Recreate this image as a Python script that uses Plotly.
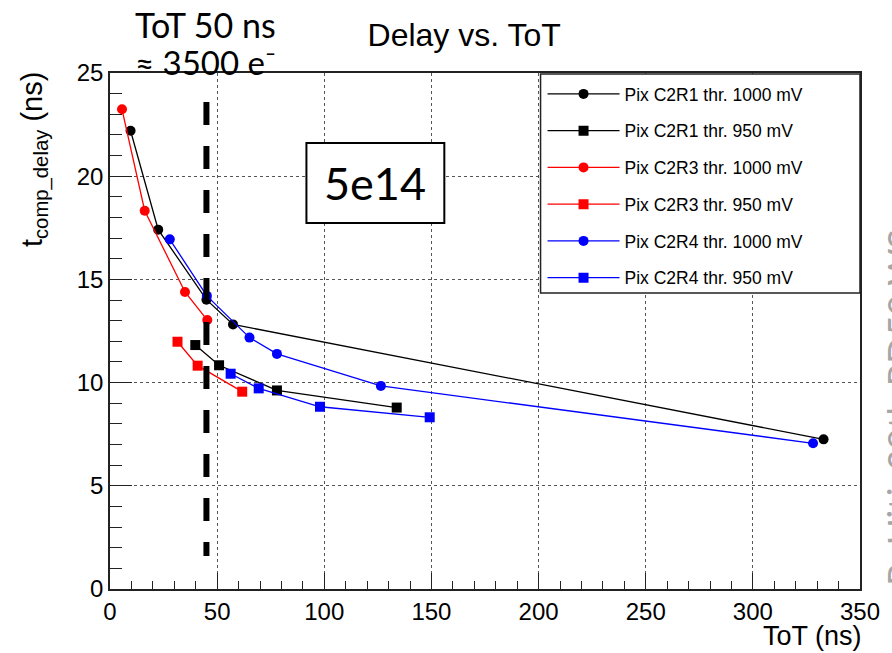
import plotly.graph_objects as go

# Compensation delay vs. ToT for three pixels at two thresholds
c2r1_1000_tot = [9.6, 22.5, 45.0, 57.4, 333.0]
c2r1_1000_delay = [22.2, 17.41, 14.02, 12.82, 7.25]

c2r1_950_tot = [39.8, 50.9, 77.9, 133.8]
c2r1_950_delay = [11.82, 10.84, 9.62, 8.79]

c2r3_1000_tot = [5.6, 16.2, 35.0, 45.4]
c2r3_1000_delay = [23.24, 18.33, 14.39, 13.03]

c2r3_950_tot = [31.5, 40.9, 61.7]
c2r3_950_delay = [11.98, 10.82, 9.56]

c2r4_1000_tot = [27.9, 45.2, 65.1, 77.9, 126.4, 328.1]
c2r4_1000_delay = [16.94, 14.2, 12.18, 11.39, 9.84, 7.06]

c2r4_950_tot = [56.3, 69.4, 98.0, 149.2]
c2r4_950_delay = [10.43, 9.72, 8.83, 8.32]

series_names = [
    "Pix C2R1 thr. 1000 mV",
    "Pix C2R1 thr. 950 mV",
    "Pix C2R3 thr. 1000 mV",
    "Pix C2R3 thr. 950 mV",
    "Pix C2R4 thr. 1000 mV",
    "Pix C2R4 thr. 950 mV",
]
series_x = [c2r1_1000_tot, c2r1_950_tot, c2r3_1000_tot, c2r3_950_tot, c2r4_1000_tot, c2r4_950_tot]
series_y = [c2r1_1000_delay, c2r1_950_delay, c2r3_1000_delay, c2r3_950_delay, c2r4_1000_delay, c2r4_950_delay]
series_colors = ["#000000", "#000000", "#ff0000", "#ff0000", "#0000ff", "#0000ff"]
series_symbols = ["circle", "square", "circle", "square", "circle", "square"]

x_ticks = [0, 50, 100, 150, 200, 250, 300, 350]
y_ticks = [0, 5, 10, 15, 20, 25]
tot_cut = 45.0  # ToT 50 ns marker line

W, H = 892, 653
L, R, T, B = 110, 866, 73, 589


def px_x(p):
    return (p - L) / (R - L)


def px_y(p):
    return (B - p) / (B - T)


AX_FONT = "Liberation Sans, Arial, Helvetica, sans-serif"
SLIDE_FONT = "Lato, Open Sans, sans-serif"

fig = go.Figure()
for i, (name, xs, ys, col, sym) in enumerate(
    zip(series_names, series_x, series_y, series_colors, series_symbols)
):
    fig.add_trace(
        go.Scatter(
            x=xs,
            y=ys,
            name=name,
            mode="lines+markers",
            legendgroup=f"g{i}",
            line=dict(color=col, width=1.3),
            marker=dict(symbol=sym, size=10, color=col),
            cliponaxis=False,
        )
    )

axis_common = dict(
    showline=True,
    linecolor="#222222",
    linewidth=1.5,
    mirror=True,
    ticks="inside",
    tickcolor="#222222",
    tickwidth=1.2,
    showgrid=True,
    gridcolor="#555555",
    gridwidth=1,
    griddash="dot",
    zeroline=False,
    tickfont=dict(family=AX_FONT, size=24, color="#000000"),
)

fig.update_xaxes(
    range=[0, 350],
    tickvals=x_ticks,
    ticktext=[str(v) for v in x_ticks],
    ticklen=16,
    minor=dict(dtick=10, ticklen=8, ticks="inside", tickcolor="#222222", showgrid=False),
    **axis_common,
)
fig.update_yaxes(
    range=[0, 25],
    tickvals=y_ticks,
    ticktext=[str(v) for v in y_ticks],
    ticklen=22,
    minor=dict(dtick=1, ticklen=12, ticks="inside", tickcolor="#222222", showgrid=False),
    **axis_common,
)

shapes = [
    # vertical ToT cut
    dict(
        type="line", xref="x", yref="y",
        x0=tot_cut, x1=tot_cut, y0=23.6, y1=1.6,
        line=dict(color="#000000", width=6, dash="23px,21px"),
        layer="above",
    ),
    # fluence label box
    dict(
        type="rect", xref="paper", yref="paper",
        x0=px_x(308), x1=px_x(447), y0=px_y(223), y1=px_y(143),
        line=dict(color="#000000", width=2), fillcolor="#ffffff",
        layer="above",
    ),
    # legend frame
    dict(
        type="rect", xref="paper", yref="paper",
        x0=px_x(544), x1=px_x(866), y0=px_y(293), y1=px_y(74),
        line=dict(color="#222222", width=1.5), fillcolor="#ffffff",
        layer="above",
    ),
]

annotations = [
    dict(
        text="ToT 50 ns", xref="paper", yref="paper",
        x=px_x(133), y=px_y(24), xanchor="left", yanchor="middle",
        showarrow=False, font=dict(family=SLIDE_FONT, size=34, color="#000000"),
    ),
    dict(
        text="≈ 3500 e⁻", xref="paper", yref="paper",
        x=px_x(133), y=px_y(62), xanchor="left", yanchor="middle",
        showarrow=False, font=dict(family=SLIDE_FONT, size=33, color="#000000"),
    ),
    dict(
        text="5e14", xref="paper", yref="paper",
        x=px_x(377.5), y=px_y(183), xanchor="center", yanchor="middle",
        showarrow=False, font=dict(family=SLIDE_FONT, size=45, color="#000000"),
    ),
    dict(
        text="ToT (ns)", xref="paper", yref="paper",
        x=px_x(870), y=px_y(636), xanchor="right", yanchor="middle",
        showarrow=False, font=dict(family=AX_FONT, size=27, color="#000000"),
    ),
    dict(
        text="t<sub>comp_delay</sub> (ns)", xref="paper", yref="paper",
        x=px_x(34), y=px_y(70), xanchor="center", yanchor="top",
        textangle=-90, showarrow=False,
        font=dict(family=AX_FONT, size=29, color="#000000"),
    ),
    dict(
        text="R. Hiti, 29th RD50 WS", xref="paper", yref="paper",
        x=px_x(882), y=px_y(407), xanchor="left", yanchor="middle",
        textangle=-90, showarrow=False,
        font=dict(family=SLIDE_FONT, size=36, color="#a6a6a6"),
    ),
]

fig.update_layout(
    width=W,
    height=H,
    margin=dict(l=L, r=W - R, t=T, b=H - B),
    paper_bgcolor="#ffffff",
    plot_bgcolor="#ffffff",
    title=dict(
        text="Delay vs. ToT",
        x=px_x(467), xref="paper", xanchor="center",
        y=1 - 35 / H, yref="container", yanchor="middle",
        font=dict(family=AX_FONT, size=32, color="#000000"),
    ),
    showlegend=True,
    legend=dict(
        x=px_x(546), y=px_y(76), xanchor="left", yanchor="top",
        bgcolor="rgba(0,0,0,0)", borderwidth=0,
        itemwidth=72, tracegroupgap=11,
        font=dict(family=AX_FONT, size=17.5, color="#000000"),
    ),
    shapes=shapes,
    annotations=annotations,
)

fig.write_html("out.html")
